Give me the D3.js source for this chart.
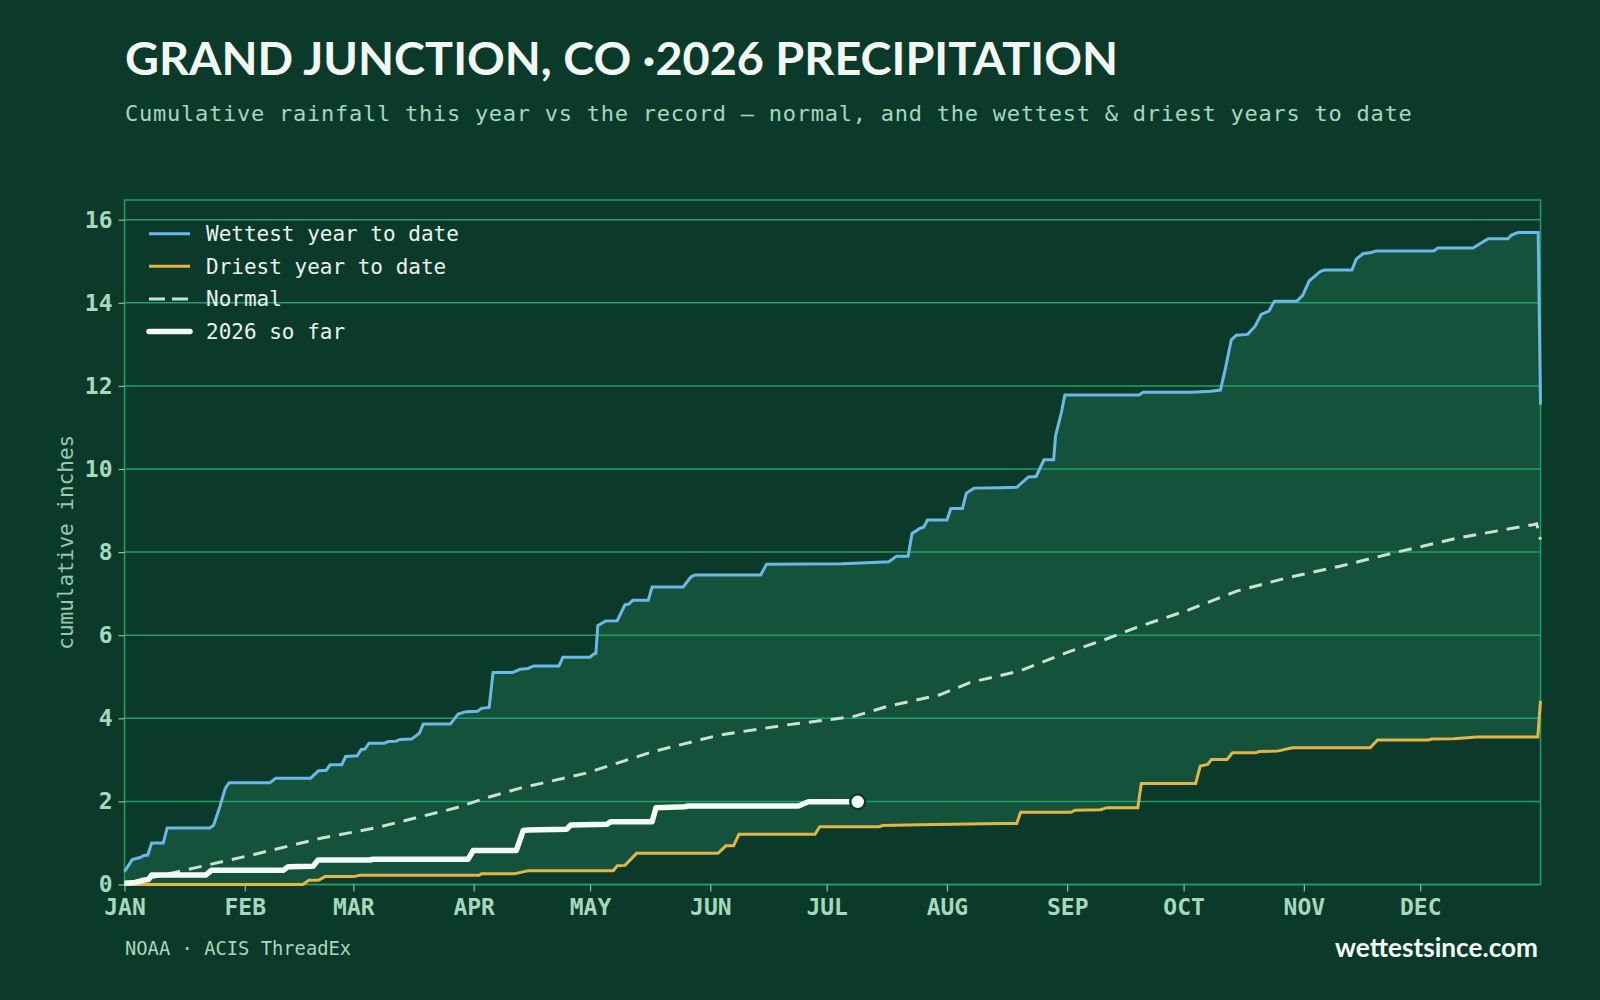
<!DOCTYPE html>
<html>
<head>
<meta charset="utf-8">
<script src="https://cdn.jsdelivr.net/npm/d3@7"></script>
<style>
  html, body { margin: 0; padding: 0; background: #0c3a2a; }
  svg { display: block; }
  .mono { font-family: "DejaVu Sans Mono", monospace; }
</style>
</head>
<body>
<svg class="canvas" width="1600" height="1000"></svg>
<script>
var Page = { width: 1600, height: 1000 }
var plot = { left: 124.5, right: 1540.5, top: 200, bottom: 884.5 }

// tick labels
var months = ['JAN', 'FEB', 'MAR', 'APR', 'MAY', 'JUN', 'JUL', 'AUG', 'SEP', 'OCT', 'NOV', 'DEC']
var yTicks = [0, 2, 4, 6, 8, 10, 12, 14, 16]

// [day of year, cumulative inches]
var wettest = [[0,0.31],[2,0.6],[4,0.65],[5,0.7],[6,0.71],[7,1.0],[10,1.0],[11,1.36],[22,1.36],[23,1.43],[24.6,1.88],[26,2.32],[27,2.45],[37.5,2.45],[39,2.56],[48,2.56],[50,2.74],[52,2.75],[53,2.88],[56,2.88],[57,3.08],[60,3.1],[61,3.25],[62,3.26],[63,3.4],[67,3.4],[68,3.44],[70,3.45],[71,3.49],[74,3.5],[76,3.64],[77,3.86],[84,3.86],[86,4.1],[88,4.16],[91,4.17],[92,4.24],[94,4.26],[95,5.1],[100,5.1],[102,5.18],[104,5.2],[105.5,5.26],[112,5.26],[113,5.47],[120,5.47],[121,5.55],[121.5,5.56],[122,6.23],[124,6.34],[127,6.35],[129,6.73],[130,6.75],[131,6.84],[135,6.84],[136,7.16],[144,7.16],[146,7.4],[147,7.45],[164,7.45],[165.5,7.71],[185,7.72],[190,7.74],[197,7.77],[199,7.9],[202,7.9],[203,8.45],[205,8.57],[206,8.6],[207,8.77],[212,8.77],[213,9.05],[216,9.05],[217,9.42],[219,9.54],[226,9.55],[230,9.56],[233,9.81],[235,9.82],[237,10.22],[239.5,10.22],[240,10.8],[241.5,11.36],[242.4,11.78],[261.5,11.78],[262.6,11.85],[275,11.85],[280,11.87],[282.5,11.9],[283.8,12.43],[285.3,13.11],[286.6,13.22],[289.5,13.24],[291.4,13.43],[293,13.72],[295,13.8],[296.4,14.04],[302.2,14.04],[303.7,14.18],[305.4,14.53],[306.7,14.63],[308.3,14.76],[309.3,14.79],[316.4,14.79],[317.5,15.05],[319.2,15.18],[321.4,15.21],[322.7,15.25],[337.5,15.25],[338.5,15.32],[347.6,15.32],[351.5,15.54],[356.6,15.54],[357.5,15.63],[359.2,15.69],[364.4,15.69],[365,11.55]]

var driest = [[0,0],[46,0],[47.5,0.1],[50,0.1],[51.7,0.19],[59,0.19],[60.7,0.22],[91.4,0.22],[92,0.26],[100.5,0.26],[103,0.31],[104,0.33],[126,0.33],[127,0.45],[129,0.46],[132,0.75],[153,0.75],[155,0.93],[157,0.93],[158.4,1.21],[178,1.21],[179.2,1.39],[194.5,1.39],[195.5,1.42],[205,1.44],[213.6,1.45],[225.6,1.47],[230,1.47],[231,1.74],[244,1.74],[245,1.79],[251.6,1.8],[253.3,1.85],[261.2,1.85],[262.1,2.43],[276.1,2.43],[277.3,2.85],[279.2,2.89],[280.2,3.01],[284.2,3.01],[285.6,3.17],[291.6,3.17],[292.5,3.2],[297.2,3.21],[301,3.29],[321.1,3.29],[323,3.48],[336.2,3.48],[337,3.5],[342.6,3.51],[348.6,3.55],[364.3,3.55],[365,4.42]]

var normal = [[0,0.02],[12,0.27],[33.7,0.73],[50.9,1.12],[64.6,1.36],[85.3,1.84],[93.8,2.1],[102,2.32],[119,2.68],[136.3,3.2],[153.5,3.6],[170.6,3.84],[187.8,4.04],[196.4,4.28],[210,4.56],[217.9,4.86],[230.8,5.14],[243.7,5.61],[252.3,5.88],[260.9,6.19],[273.8,6.59],[286.7,7.06],[299.6,7.38],[313.3,7.66],[327.1,7.98],[344.2,8.35],[363.1,8.66],[364,8.68],[365,8.3]]

var thisYear = [[0,0.03],[3,0.05],[4.7,0.1],[6.2,0.12],[7,0.23],[21,0.23],[22.4,0.34],[40.9,0.34],[42.2,0.43],[48.6,0.44],[49.9,0.59],[63.3,0.59],[64.1,0.61],[88.6,0.61],[89.9,0.82],[101,0.82],[102.8,1.3],[104,1.31],[114,1.33],[115,1.43],[124.4,1.45],[125.3,1.51],[136,1.51],[137,1.85],[144.3,1.87],[145.3,1.89],[173.7,1.89],[176.3,1.99],[189,1.99]]

var legendItems = ['Wettest year to date', 'Driest year to date', 'Normal', '2026 so far']

var colors = {
  bg: '#0c3a2a',
  band: '#14523c',
  grid: '#1f9f66',
  wet: '#6cb8e6',
  dry: '#e3b546',
  normal: '#c9e2d2',
  now: '#f4fbf6',
  label: '#a6d8bd'
}

var svg = d3.select('.canvas')
var yearStart = Date.UTC(2026, 0, 1)

function dayToDate(d) {
  return new Date(yearStart + d * 864e5)
}

var x = d3.scaleUtc()
  .domain([new Date(yearStart), new Date(Date.UTC(2027, 0, 1))])
  .range([plot.left, plot.right])

var y = d3.scaleLinear()
  .domain([0, d3.max(wettest, function(d) { return d[1] }) * 1.05])
  .range([plot.bottom, plot.top])

var line = d3.line()
  .x(function(d) { return x(dayToDate(d[0])) })
  .y(function(d) { return y(d[1]) })

svg.append('rect')
  .attr('width', Page.width)
  .attr('height', Page.height)
  .attr('fill', colors.bg)

// band between wettest and driest
svg.append('path')
  .attr('d', line(wettest) + 'L' + line(driest.slice().reverse()).slice(1) + 'Z')
  .attr('fill', colors.band)

// grid
svg.append('g').selectAll('line')
  .data(yTicks)
  .enter().append('line')
  .attr('x1', plot.left)
  .attr('x2', plot.right)
  .attr('y1', function(d) { return y(d) })
  .attr('y2', function(d) { return y(d) })
  .attr('stroke', colors.grid)
  .attr('stroke-width', 1.5)

svg.append('rect')
  .attr('x', plot.left)
  .attr('y', plot.top)
  .attr('width', plot.right - plot.left)
  .attr('height', plot.bottom - plot.top)
  .attr('fill', 'none')
  .attr('stroke', colors.grid)
  .attr('stroke-width', 1.5)

// axes
var yAxis = svg.append('g')
  .attr('transform', 'translate(' + plot.left + ',0)')
  .call(d3.axisLeft(y).tickValues(yTicks).tickSize(6).tickPadding(6))

var xAxis = svg.append('g')
  .attr('transform', 'translate(0,' + plot.bottom + ')')
  .call(d3.axisBottom(x)
    .ticks(d3.utcMonth.every(1))
    .tickFormat(function(d) { return months[d.getUTCMonth()] })
    .tickSize(7).tickPadding(7))

xAxis.selectAll('.tick').filter(function(d) { return d.getUTCFullYear() > 2026 }).remove()

;[yAxis, xAxis].forEach(function(axis) {
  axis.select('.domain').remove()
  axis.selectAll('.tick line').attr('stroke', '#8dbfa6').attr('stroke-width', 1.2)
  axis.selectAll('.tick text')
    .attr('class', 'mono')
    .attr('fill', colors.label)
    .attr('font-size', 23)
    .attr('font-weight', 'bold')
})

// series
svg.append('path')
  .datum(driest)
  .attr('d', line)
  .attr('fill', 'none')
  .attr('stroke', colors.dry)
  .attr('stroke-width', 3)

svg.append('path')
  .datum(wettest)
  .attr('d', line)
  .attr('fill', 'none')
  .attr('stroke', colors.wet)
  .attr('stroke-width', 3)

svg.append('path')
  .datum(normal)
  .attr('d', line)
  .attr('fill', 'none')
  .attr('stroke', colors.normal)
  .attr('stroke-width', 3)
  .attr('stroke-dasharray', '13,9')

svg.append('path')
  .datum(thisYear)
  .attr('d', line)
  .attr('fill', 'none')
  .attr('stroke', colors.now)
  .attr('stroke-width', 5.5)
  .attr('stroke-linejoin', 'round')

var last = thisYear[thisYear.length - 1]
svg.append('circle')
  .attr('cx', x(dayToDate(last[0])))
  .attr('cy', y(last[1]))
  .attr('r', 7.5)
  .attr('fill', colors.now)
  .attr('stroke', colors.bg)
  .attr('stroke-width', 2.5)

// legend
var legendStyle = [
  { color: colors.wet, width: 3, dash: null },
  { color: colors.dry, width: 3, dash: null },
  { color: colors.normal, width: 3, dash: '16,7' },
  { color: colors.now, width: 5.5, dash: null }
]

var legend = svg.append('g').selectAll('.legend')
  .data(legendItems)
  .enter().append('g')
  .attr('class', 'legend')
  .attr('transform', function(d, i) { return 'translate(0,' + (233.7 + i * 32.6) + ')' })

legend.append('line')
  .attr('x1', 149)
  .attr('x2', 190)
  .attr('stroke', function(d, i) { return legendStyle[i].color })
  .attr('stroke-width', function(d, i) { return legendStyle[i].width })
  .attr('stroke-dasharray', function(d, i) { return legendStyle[i].dash })
  .attr('stroke-linecap', function(d, i) { return i == 3 ? 'round' : 'butt' })

legend.append('text')
  .attr('class', 'mono')
  .attr('x', 206)
  .attr('y', 7.5)
  .attr('font-size', 21)
  .attr('fill', '#e8f3ec')
  .text(function(d) { return d })

// titles
svg.append('text')
  .attr('x', 125)
  .attr('y', 75)
  .attr('font-family', 'Lato, "Open Sans", sans-serif')
  .attr('font-weight', 'bold')
  .attr('font-size', 45)
  .attr('fill', '#f1f8f3')
  .attr('textLength', 993)
  .attr('lengthAdjust', 'spacingAndGlyphs')
  .text('GRAND JUNCTION, CO ·2026 PRECIPITATION')

svg.append('text')
  .attr('class', 'mono')
  .attr('x', 125)
  .attr('y', 121)
  .attr('font-size', 22)
  .attr('letter-spacing', 0.75)
  .attr('fill', colors.label)
  .text('Cumulative rainfall this year vs the record — normal, and the wettest & driest years to date')

svg.append('text')
  .attr('class', 'mono')
  .attr('transform', 'translate(67,' + ((plot.top + plot.bottom) / 2) + ') rotate(-90)')
  .attr('text-anchor', 'middle')
  .attr('dominant-baseline', 'middle')
  .attr('font-size', 21)
  .attr('fill', '#96c9ae')
  .text('cumulative inches')

svg.append('text')
  .attr('class', 'mono')
  .attr('x', 125)
  .attr('y', 955)
  .attr('font-size', 18.8)
  .attr('fill', colors.label)
  .text('NOAA · ACIS ThreadEx')

svg.append('text')
  .attr('x', 1335)
  .attr('y', 956.5)
  .attr('font-family', 'Lato, "Open Sans", sans-serif')
  .attr('font-weight', 'bold')
  .attr('font-size', 27)
  .attr('fill', '#f4fbf6')
  .attr('textLength', 203)
  .attr('lengthAdjust', 'spacingAndGlyphs')
  .text('wettestsince.com')
</script>
</body>
</html>
